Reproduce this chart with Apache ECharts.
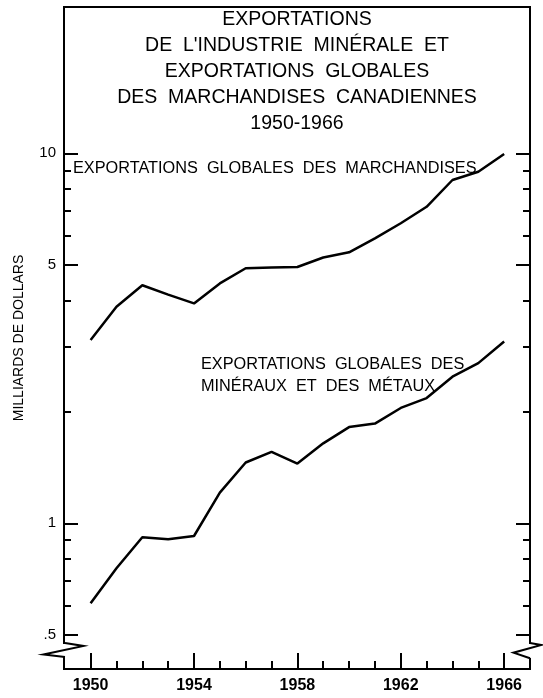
<!DOCTYPE html>
<html>
<head>
<meta charset="utf-8">
<script src="https://cdn.jsdelivr.net/npm/echarts@6/dist/echarts.min.js"></script>
<style>
  html, body { margin: 0; padding: 0; background: #fff; }
  #chart { width: 543px; height: 698px; }
</style>
</head>
<body>
<div id="chart"></div>
<script>
// years on the x axis
var years = [1950, 1951, 1952, 1953, 1954, 1955, 1956, 1957, 1958,
             1959, 1960, 1961, 1962, 1963, 1964, 1965, 1966];
// milliards de dollars
var marchandises = [3.13, 3.85, 4.40, 4.15, 3.93, 4.45, 4.89, 4.91, 4.93,
                    5.23, 5.40, 5.89, 6.47, 7.17, 8.47, 8.92, 9.96];
var mineraux = [0.608, 0.756, 0.917, 0.905, 0.924, 1.21, 1.46, 1.56, 1.45,
                1.645, 1.82, 1.86, 2.05, 2.18, 2.49, 2.71, 3.10];

var yMajorTicks = [0.5, 1, 5, 10];
var yMinorTicks = [0.6, 0.7, 0.8, 0.9, 2, 3, 4, 6, 7, 8, 9];
var xMajorTicks = [1950, 1954, 1958, 1962, 1966];
var xMinorTicks = [1951, 1952, 1953, 1955, 1956, 1957, 1959, 1960, 1961, 1963, 1964, 1965];

var titleLines = [
  'EXPORTATIONS',
  "DE  L'INDUSTRIE  MINÉRALE  ET",
  'EXPORTATIONS  GLOBALES',
  'DES  MARCHANDISES  CANADIENNES',
  '1950-1966'
];

var font = 'Liberation Sans';
var yMin = 0.4038, yMax = 24.86;
var xMin = 1948.97, xMax = 1967.0;

function pairs(vals) {
  return years.map(function (y, i) { return [y, vals[i]]; });
}

function yAxisDef(pos, ticks, len, showLabel) {
  return {
    type: 'log',
    logBase: 10,
    position: pos,
    min: yMin,
    max: yMax,
    splitLine: { show: false },
    axisLine: { show: true, lineStyle: { color: '#000', width: 2 } },
    axisTick: { show: true, inside: true, length: len, customValues: ticks,
                lineStyle: { color: '#000', width: 2 } },
    axisLabel: {
      show: showLabel,
      customValues: ticks,
      margin: 8,
      color: '#000',
      fontFamily: font,
      fontSize: 15,
      formatter: function (v) { return v === 0.5 ? '.5' : String(v); }
    }
  };
}

function xAxisDef(ticks, len, showLabel) {
  return {
    type: 'value',
    position: 'bottom',
    min: xMin,
    max: xMax,
    splitLine: { show: false },
    axisLine: { show: true, lineStyle: { color: '#000', width: 2 } },
    axisTick: { show: true, inside: true, length: len, customValues: ticks,
                lineStyle: { color: '#000', width: 2 } },
    axisLabel: {
      show: showLabel,
      customValues: ticks,
      margin: 9,
      color: '#000',
      fontFamily: font,
      fontSize: 16,
      fontWeight: 'bold',
      formatter: function (v) { return String(v); }
    }
  };
}

var yLeft = yAxisDef('left', yMajorTicks, 14, true);
yLeft.name = 'MILLIARDS DE DOLLARS';
yLeft.nameLocation = 'middle';
yLeft.nameRotate = 90;
yLeft.nameGap = 38;
yLeft.nameTextStyle = { color: '#000', fontFamily: font, fontSize: 14 };

var option = {
  backgroundColor: '#fff',
  animation: false,
  title: {
    text: titleLines.join('\n'),
    left: 297,
    top: 7,
    padding: 0,
    textAlign: 'center',
    textStyle: { color: '#000', fontFamily: font, fontSize: 19.5, fontWeight: 'normal', lineHeight: 26 }
  },
  grid: {
    left: 64, right: 13, top: 7, bottom: 29,
    show: true, borderColor: '#000', borderWidth: 2
  },
  xAxis: [
    xAxisDef(xMajorTicks, 16, true),
    xAxisDef(xMinorTicks, 8, false)
  ],
  yAxis: [
    yLeft,
    yAxisDef('left', yMinorTicks, 7, false),
    yAxisDef('right', yMajorTicks, 14, false),
    yAxisDef('right', yMinorTicks, 7, false)
  ],
  series: [
    {
      name: 'Exportations globales des marchandises',
      type: 'line',
      data: pairs(marchandises),
      showSymbol: false,
      lineStyle: { color: '#000', width: 2.5 },
      z: 5
    },
    {
      name: 'Exportations globales des minéraux et des métaux',
      type: 'line',
      data: pairs(mineraux),
      showSymbol: false,
      lineStyle: { color: '#000', width: 2.5 },
      z: 5
    }
  ],
  graphic: [
    // annotations
    { type: 'text', left: 73, top: 161, z: 50,
      style: { text: 'EXPORTATIONS  GLOBALES  DES  MARCHANDISES', fill: '#000',
               font: '16.3px "Liberation Sans"' } },
    { type: 'text', left: 201, top: 354, z: 50,
      style: { text: 'EXPORTATIONS  GLOBALES  DES\nMINÉRAUX  ET  DES  MÉTAUX', fill: '#000',
               font: '16.3px "Liberation Sans"', lineHeight: 22 } },
    // axis breaks
    { type: 'rect', z: 90, shape: { x: 58, y: 644, width: 12, height: 13 }, style: { fill: '#fff' } },
    { type: 'rect', z: 90, shape: { x: 524, y: 644, width: 12, height: 14 }, style: { fill: '#fff' } },
    { type: 'polyline', z: 95,
      shape: { points: [[65, 643], [83.5, 646], [43.5, 654.5], [65, 657]] },
      style: { stroke: '#000', lineWidth: 2, fill: null } },
    { type: 'polyline', z: 95,
      shape: { points: [[530, 643], [541.5, 645], [513.5, 652.7], [530, 658.3]] },
      style: { stroke: '#000', lineWidth: 2, fill: null } }
  ]
};

var chart = echarts.init(document.getElementById('chart'));
chart.setOption(option);
</script>
</body>
</html>
